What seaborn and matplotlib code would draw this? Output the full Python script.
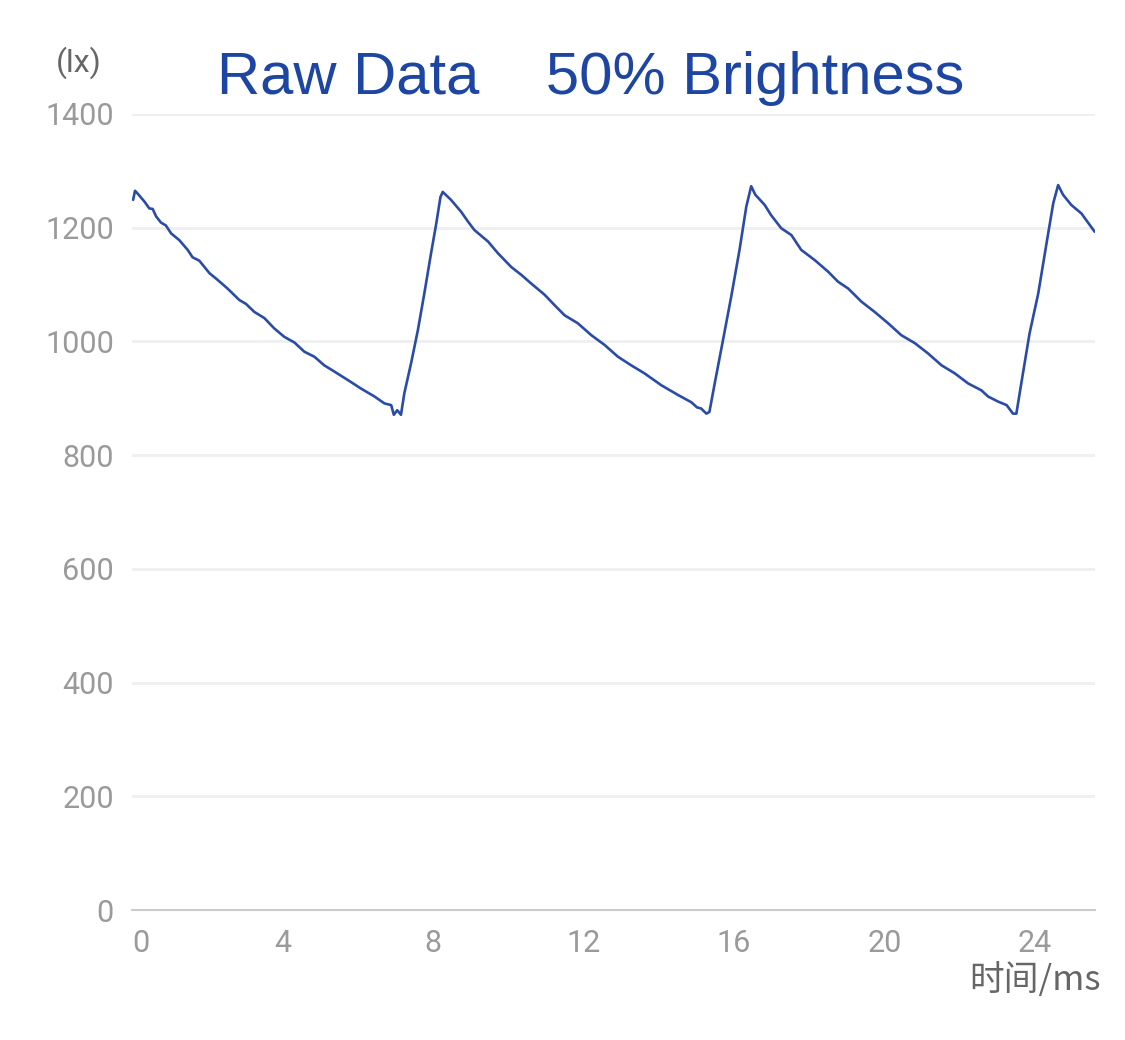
import pandas as pd
import seaborn as sns
import matplotlib.pyplot as plt

# readings
time_ms = [
    0.03, 0.08, 0.15, 0.33, 0.46, 0.55, 0.64, 0.77, 0.90, 1.04, 1.26, 1.48, 1.61, 1.79,
    2.06, 2.28, 2.54, 2.85, 3.03, 3.25, 3.52, 3.78, 4.05, 4.32, 4.58, 4.85, 5.11, 5.38,
    5.74, 6.09, 6.45, 6.71, 6.89, 6.96, 7.05, 7.15, 7.24, 7.42, 7.60, 7.77, 7.95, 8.09,
    8.20, 8.26,
    8.48, 8.75, 8.93, 9.10, 9.46, 9.73, 10.08, 10.35, 10.61, 10.97, 11.23, 11.50, 11.85,
    12.21, 12.56, 12.92, 13.27, 13.62, 14.07, 14.51, 14.87, 15.02, 15.13, 15.27, 15.35,
    15.49, 15.71, 15.93, 16.15, 16.33, 16.46,
    16.57, 16.82, 16.99, 17.26, 17.53, 17.79, 18.15, 18.50, 18.77, 19.04, 19.39, 19.74,
    20.10, 20.45, 20.81, 21.16, 21.52, 21.87, 22.23, 22.58, 22.76, 23.03, 23.25, 23.42,
    23.51, 23.64, 23.86, 24.09, 24.31, 24.49, 24.62, 24.75, 24.97, 25.24, 25.59,
]
lux = [
    1249, 1265, 1260, 1246, 1234, 1233, 1220, 1209, 1204, 1190, 1178, 1161, 1148, 1142,
    1120, 1108, 1093, 1073, 1066, 1052, 1041, 1023, 1008, 998, 982, 973, 958, 947,
    932, 917, 903, 891, 888, 871, 879, 871, 909, 962, 1020, 1084, 1155, 1208,
    1254, 1263,
    1249, 1228, 1211, 1196, 1176, 1155, 1131, 1117, 1102, 1082, 1064, 1046, 1032,
    1011, 994, 973, 958, 944, 923, 906, 893, 884, 882, 873, 876,
    926, 1002, 1079, 1161, 1237, 1273,
    1258, 1240, 1222, 1199, 1187, 1161, 1143, 1123, 1105, 1093, 1070, 1052,
    1032, 1011, 997, 979, 958, 944, 926, 914, 903, 894, 888, 873,
    873, 926, 1014, 1084, 1172, 1243, 1275, 1258, 1240, 1225, 1193,
]
x_ticks = [0, 4, 8, 12, 16, 20, 24]
y_ticks = [0, 200, 400, 600, 800, 1000, 1200, 1400]

sns.set_theme(style="white")
plt.rcParams['font.family'] = ['Roboto', 'Noto Sans CJK SC', 'DejaVu Sans']

df = pd.DataFrame({"t": time_ms, "lx": lux})

fig = plt.figure(figsize=(11.25, 10.4), dpi=100)
ax = fig.add_axes([132 / 1125, 130 / 1040, (1095 - 132) / 1125, (910 - 114) / 1040])

sns.lineplot(data=df, x="t", y="lx", ax=ax, color="#2a4ca6", linewidth=1.9)

ax.set_xlim(0, 25.6)
ax.set_ylim(0, 1400)
ax.set_xticks(x_ticks)
ax.set_yticks(y_ticks)
ax.set_xticklabels([str(v) for v in x_ticks])
ax.set_yticklabels([str(v) for v in y_ticks])
ax.get_xticklabels()[0].set_horizontalalignment("left")

ax.grid(axis="y", color="#efefef", linewidth=2)
ax.grid(axis="x", visible=False)
for s in ["top", "left", "right"]:
    ax.spines[s].set_visible(False)
ax.spines["bottom"].set_color("#cccccc")
ax.spines["bottom"].set_linewidth(1.5)
ax.tick_params(axis="both", length=0, labelsize=22, colors="#9a9a9a")
ax.tick_params(axis="x", pad=14)
ax.tick_params(axis="y", pad=13)
ax.set_xlabel("")
ax.set_ylabel("")

fig.text(79 / 1125, 1 - 63 / 1040, "(lx)", ha="center", va="center", fontsize=23, color="#666666")
fig.text(1101 / 1125, 1 - 981 / 1040, "时间/ms", ha="right", va="center", fontsize=25,
         color="#666666", family=['Noto Sans CJK SC', 'DejaVu Sans'])
fig.text(217 / 1125, 1 - 79 / 1040, "Raw Data    50% Brightness", ha="left", va="center",
         fontsize=43, color="#1d45a2", family=['Liberation Sans', 'DejaVu Sans'])

fig.savefig("out.png", dpi=100)
